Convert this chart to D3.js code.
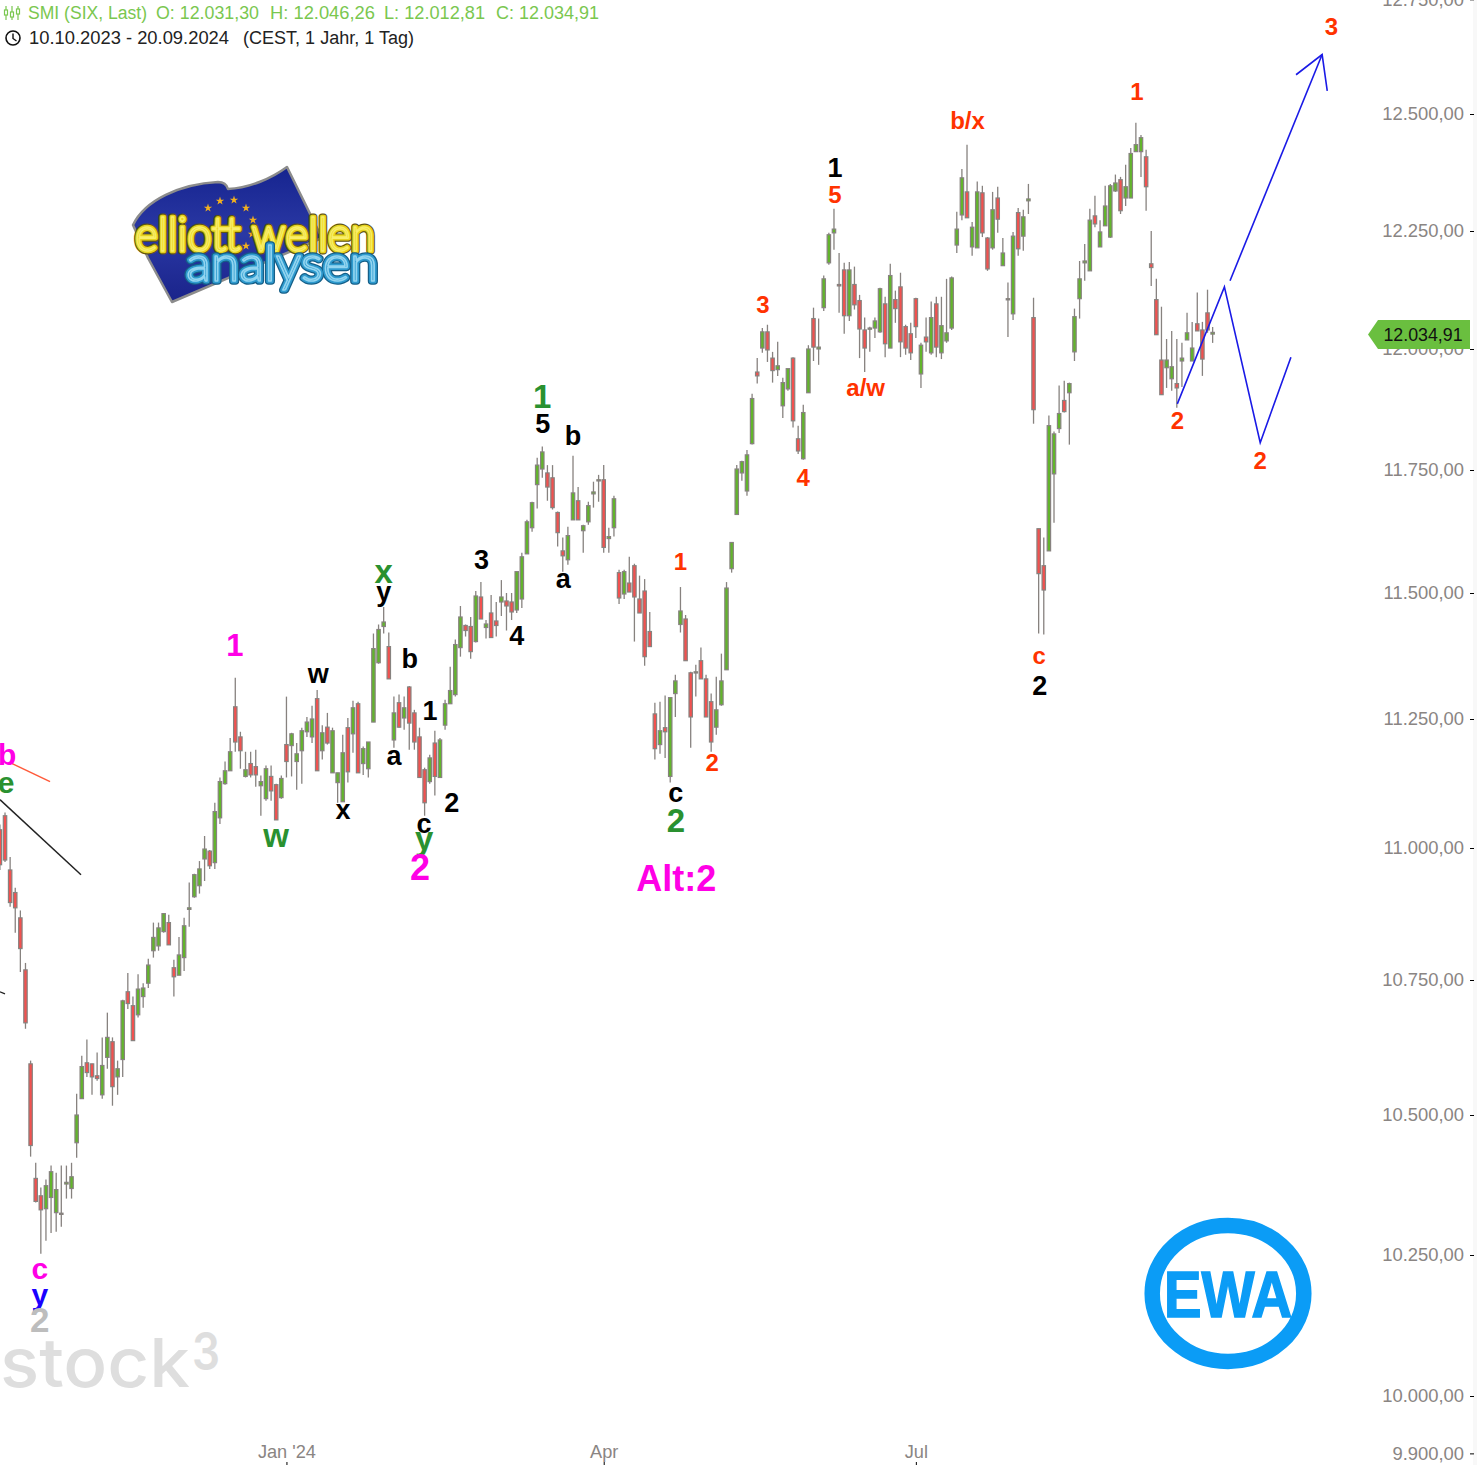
<!DOCTYPE html>
<html><head><meta charset="utf-8">
<script src="https://cdn.jsdelivr.net/npm/d3@7/dist/d3.min.js"></script>
<style>html,body{margin:0;padding:0;background:#fff}svg{display:block}text{font-family:"Liberation Sans",Arial,sans-serif}</style>
</head><body><div id="chart"></div>
<script>
// Daily OHLC, SMI, one entry per trading day shown (bar index = array position)
const opens=[11035,11062,10958,10915,10867,10769,10594,10386,10355,10332,
10352,10325,10322,10376,10368,10450,10530,10596,10594,10572,
10537,10606,10635,10570,10602,10728,10702,10685,10719,10744,
10805,10814,10841,10858,10773,10759,10792,10883,10907,10928,
10979,10994,10972,11058,11124,11149,11274,11215,11138,11163,
11157,11120,11095,11138,11122,11097,11200,11198,11167,11188,
11225,11215,11290,11188,11234,11145,11126,11089,11233,11221,
11280,11163,11153,11244,11361,11433,11393,11209,11282,11252,
11313,11262,11215,11151,11128,11203,11136,11238,11280,11298,
11391,11435,11433,11403,11492,11431,11460,11444,11482,11484,
11482,11466,11488,11579,11632,11720,11752,11744,11734,11663,
11585,11567,11648,11687,11626,11644,11701,11728,11730,11610,
11632,11541,11498,11520,11555,11488,11504,11423,11260,11200,
11233,11138,11300,11437,11448,11341,11341,11365,11329,11284,
11234,11278,11347,11549,11659,11744,11707,11804,11952,12002,
12036,11981,11957,11882,11917,11981,11814,11773,11909,12064,
12000,12087,12182,12246,12136,12167,12070,12136,12102,12040,
12042,12044,12036,12095,12002,12104,12131,12047,12032,12106,
11948,12025,11992,12095,11992,12017,12044,12220,12284,12333,
12216,12214,12331,12235,12214,12320,12176,12104,12074,12289,
12239,12314,12066,11630,11555,11585,11742,11835,11893,11909,
11994,12106,12182,12165,12282,12216,12261,12237,12335,12359,
12320,12320,12419,12419,12408,12180,12104,11977,11961,11938,
11928,11975,12019,11975,12053,12040,12076,12031.30];
const closes=[10968,10977,10896,10886,10809,10670,10445,10345,10330,10373,
10398,10366,10324,10379,10389,10500,10589,10578,10570,10567,
10591,10643,10552,10585,10711,10706,10637,10733,10735,10778,
10830,10848,10875,10816,10756,10797,10852,10886,10949,10960,
10998,10966,11070,11128,11149,11186,11205,11188,11151,11141,
11141,11128,11153,11110,11054,11134,11167,11221,11182,11227,
11244,11250,11149,11223,11203,11227,11145,11184,11147,11272,
11145,11192,11205,11389,11427,11442,11329,11262,11234,11272,
11242,11205,11136,11087,11174,11138,11209,11280,11306,11397,
11452,11425,11383,11494,11448,11438,11411,11435,11492,11474,
11462,11543,11573,11644,11683,11760,11787,11715,11673,11622,
11575,11616,11703,11648,11636,11677,11705,11730,11592,11614,
11691,11490,11543,11502,11492,11460,11373,11393,11192,11227,
11225,11292,11325,11464,11365,11254,11343,11329,11254,11205,
11268,11325,11510,11602,11752,11767,11781,11897,11944,12036,
11998,11955,11965,11930,11959,11851,11789,11868,12000,12004,
12004,12148,12242,12254,12133,12070,12167,12093,12042,12002,
12044,12059,12127,12011,12155,12085,12015,12002,11992,12047,
12008,12015,12066,12004,12049,12034,12150,12254,12363,12278,
12258,12333,12246,12169,12295,12275,12203,12106,12239,12212,
12280,12318,11874,11539,11506,11841,11824,11866,11870,11928,
12068,12148,12186,12273,12265,12248,12303,12346,12352,12293,
12344,12415,12434,12449,12344,12172,12030,11905,11977,11963,
11919,11981,12034,12002,12038,11979,12040,12034.91];
const highs=[11045,11068,10983,10924,10881,10782,10600,10414,10370,10384,
10409,10396,10409,10409,10414,10539,10609,10639,10594,10615,
10643,10689,10643,10600,10713,10763,10719,10761,10744,10790,
10858,10858,10875,10873,10788,10831,10867,10934,10951,10975,
11023,10996,11087,11136,11167,11213,11331,11225,11186,11186,
11190,11140,11159,11159,11124,11140,11294,11223,11203,11233,
11254,11276,11307,11238,11262,11233,11145,11219,11252,11286,
11284,11196,11205,11419,11437,11472,11421,11294,11298,11294,
11315,11268,11233,11155,11180,11227,11213,11288,11353,11407,
11474,11437,11452,11504,11522,11446,11496,11482,11526,11500,
11500,11543,11581,11648,11685,11775,11798,11760,11760,11665,
11612,11634,11779,11715,11638,11685,11726,11740,11760,11632,
11697,11547,11547,11573,11559,11535,11528,11462,11282,11284,
11296,11292,11337,11512,11456,11343,11357,11391,11337,11300,
11333,11379,11522,11602,11760,11769,11791,11907,11981,12044,
12051,11994,12015,11940,11959,11983,11841,11884,12008,12087,
12064,12155,12246,12297,12203,12182,12184,12174,12114,12066,
12047,12066,12129,12110,12180,12123,12161,12051,12055,12108,
12013,12066,12100,12110,12110,12148,12153,12291,12382,12434,
12269,12355,12346,12237,12333,12344,12235,12140,12248,12299,
12295,12350,12108,11630,11612,11862,11829,11924,11934,11930,
12085,12186,12222,12297,12325,12273,12346,12350,12370,12365,
12391,12427,12481,12455,12423,12250,12148,12089,12021,12038,
12021,12013,12076,12057,12119,12057,12125,12046.26];
const lows=[10958,10973,10888,10839,10765,10659,10425,10343,10252,10275,
10289,10291,10300,10350,10350,10423,10530,10570,10537,10563,
10530,10585,10517,10537,10570,10696,10637,10680,10698,10735,
10792,10805,10839,10816,10719,10759,10767,10850,10905,10913,
10937,10960,10960,11046,11122,11149,11186,11153,11136,11136,
11118,11062,11091,11091,11054,11095,11136,11138,11112,11124,
11215,11203,11149,11171,11200,11145,11087,11089,11126,11184,
11145,11141,11136,11244,11359,11419,11329,11194,11233,11229,
11190,11190,11136,11062,11124,11101,11136,11229,11280,11294,
11373,11413,11369,11401,11448,11409,11411,11413,11454,11425,
11446,11460,11470,11579,11624,11671,11734,11687,11669,11594,
11543,11557,11648,11648,11581,11638,11673,11685,11581,11581,
11614,11478,11488,11502,11403,11460,11355,11393,11171,11182,
11174,11126,11254,11421,11365,11194,11294,11329,11254,11186,
11219,11276,11347,11541,11659,11728,11697,11802,11928,11992,
11973,11930,11944,11857,11913,11837,11783,11771,11909,11975,
11967,12080,12178,12210,12076,12032,12059,12083,11981,11952,
11994,12023,12034,11983,12002,12055,11983,11988,11977,12023,
11919,11994,11988,11983,11979,12013,12040,12203,12273,12278,
12197,12214,12237,12165,12210,12246,12176,12025,12061,12197,
12208,12286,11845,11419,11417,11585,11642,11826,11868,11802,
11975,12064,12144,12165,12258,12216,12261,12235,12333,12286,
12303,12320,12419,12365,12293,12133,12030,11905,11919,11913,
11878,11921,12019,11975,12038,11944,12034,12012.81];

const priceTicks=[12750,12500,12250,12000,11750,11500,11250,11000,10750,10500,10250,10000,9900];
const scaleLevels=[10000,10250,10500,10750,11000,11250,11500,11750,12000,12250,12500];
const timeTickBars=[56,118,179];
const timeTickLabels=["Jan '24","Apr","Jul"];
const lastClose=12034.91;

// Elliott wave annotations: text, bar, price level of the text baseline, style key
const waveTexts=["1","b","e","c","y","2","w","w","x","x","y","b","a","1","2","c","y","2","3","4","1","5","b","a","c","2","1","2","Alt:2","4","3","1","5","a/w","b/x","c","2","1","2","2","3"];
const waveBars=[45.9,1.4,1.2,7.8,7.8,7.8,62.2,53.95,67.05,75,75,80.1,77,84.05,88.3,82.9,82.9,82.1,94.1,101,106,106.1,112,110.1,132.1,132.1,133,139.2,132.2,157,149.1,163.2,163.2,169.2,189.1,203.1,203.2,222.2,230.1,246.3,260.2];
const waveLevels=[11375,11161,11105,10207,10160,10112,11321,11002,11056,11520,11484,11351,11161,11248,11070,11029,10996,10939,11549,11397,11878,11826,11802,11510,11089,11031,11547,11149,10917,11717,12076,12365,12310,11903,12468,11359,11298,12530,11835,11752,12671];
const waveKinds=["magL","magM","grnM","magM","bluM","gryL","blk","grnL","blk","grnL","blk","blk","blk","blk","blk","blk","grnL","magXL","blk","blk","grnL","blk","blk","blk","blk","grnL","red","red","magXL","red","red","blk","red","red","red","red","blk","red","red","red","red"];
const waveStyles={magL:["#ff00e6",31],magM:["#ff00e6",30],magXL:["#ff00e6",36],grnM:["#2a9130",30],grnL:["#2a9130",33],bluM:["#1a00ff",30],gryL:["#bdbdbd",35],blk:["#000",27],red:["#ff3300",24]};

// Forecast and trend lines as [bar, price]
const forecastPath=[[230.1,11886],[239.3,12131],[246.3,11806],[252.3,11983]];
const forecastArrow=[[240.4,12144],[258.4,12629]];
const arrowHead=[[253.3,12585],[258.4,12629],[259.4,12550]];
const blackTrend=[[0,11093],[15.85,10949]];
const blackStub=[[0,10728],[1,10724]];
const redTrend=[[2.4,11163],[9.8,11128]];

const W=1477,H=1465;
const svg=d3.select("#chart").append("svg").attr("width",W).attr("height",H).attr("viewBox",`0 0 ${W} ${H}`);
const x=d3.scaleLinear().domain([0,288]).range([-0.1,1473.6]);
const y=d3.scaleLog().domain(scaleLevels).range([1396,1255,1115,980,848,719,593,470,349,231,114]);
const candles=opens.map((o,i)=>({i,o,c:closes[i],h:highs[i],l:lows[i]}));
const green="#62b52b",red="#f2514f",edge="#87827f";

svg.append("rect").attr("x",1473).attr("y",0).attr("width",4).attr("height",H).attr("fill","#f8f8f8");

/* ---------- logo: Elliott Wellen Analysen ---------- */
const defs=svg.append("defs");
const fg=defs.append("linearGradient").attr("id","flag").attr("x1",0).attr("y1",0).attr("x2",0).attr("y2",1);
fg.append("stop").attr("offset",0).attr("stop-color","#16248f");
fg.append("stop").attr("offset",0.5).attr("stop-color","#2a38a4");
fg.append("stop").attr("offset",1).attr("stop-color","#1a238a");
const logo=svg.append("g");
logo.append("path").attr("d","M133,225 C145,200 180,184 218,182 Q226,182 228,189 C250,188 272,178 287,167 L322,238 L172,302 L148,258 Z")
  .attr("fill","url(#flag)").attr("stroke","#8c8c8c").attr("stroke-width",2.5).attr("stroke-linejoin","round");
const star=d3.symbol().type(d3.symbolStar).size(22);
[[208,208],[220,201],[234,200],[246,208],[253,220],[252,234],[246,246]].forEach(p=>
  logo.append("path").attr("d",star).attr("transform",`translate(${p[0]},${p[1]})`).attr("fill","#f2b01e"));
function logoText(t,xx,yy,len,size,cols){
  cols.forEach(c=>logo.append("text").attr("x",xx).attr("y",yy).attr("textLength",len).attr("lengthAdjust","spacingAndGlyphs")
    .style("font-family","Lato, 'Open Sans', sans-serif").style("font-size",size+"px").style("font-weight",300)
    .attr("fill","none").attr("stroke",c[0]).attr("stroke-width",c[1]).attr("stroke-linejoin","round").attr("stroke-linecap","round").text(t));
}
logoText("elliott wellen",135,251,240,48,[["#5f5510",7],["#e6d21f",4.6],["#f8ee6a",1.4]]);
logoText("analysen",186,281,192,50,[["#155f88",7.5],["#2f9bcf",5],["#93d5f0",1.6]]);

/* ---------- stock3 watermark ---------- */
svg.append("text").attr("x",0).attr("y",1387).attr("textLength",190).attr("lengthAdjust","spacingAndGlyphs")
  .style("font-family","Inter, sans-serif").style("font-size","68px").style("font-weight",500).attr("fill","#dedede").text("stock");
svg.append("text").attr("x",192).attr("y",1370).attr("textLength",28).attr("lengthAdjust","spacingAndGlyphs")
  .style("font-family","Inter, sans-serif").style("font-size","52px").style("font-weight",600).attr("fill","#dedede").text("3");

/* ---------- EWA logo ---------- */
svg.append("ellipse").attr("cx",1228).attr("cy",1293.5).attr("rx",75.8).attr("ry",68).attr("fill","#fff").attr("stroke","#0b9cf6").attr("stroke-width",15.5);
svg.append("text").attr("x",1164).attr("y",1316.5).attr("textLength",128).attr("lengthAdjust","spacingAndGlyphs")
  .style("font-size","64px").style("font-weight",700).attr("fill","#0b9cf6").attr("stroke","#0b9cf6").attr("stroke-width",1.6).text("EWA");

/* ---------- candles ---------- */
const gC=svg.append("g").selectAll("g").data(candles).join("g");
gC.append("line").attr("x1",d=>x(d.i)).attr("x2",d=>x(d.i)).attr("y1",d=>y(d.h)).attr("y2",d=>y(d.l))
  .attr("stroke",edge).attr("stroke-width",1.3);
gC.append("rect").attr("x",d=>x(d.i)-1.7).attr("width",3.4)
  .attr("y",d=>y(Math.max(d.o,d.c))).attr("height",d=>Math.max(1.2,Math.abs(y(d.o)-y(d.c))))
  .attr("fill",d=>d.c>=d.o?green:red).attr("stroke",edge).attr("stroke-width",1.2);

/* ---------- wave lines ---------- */
const ln=d3.line().x(p=>x(p[0])).y(p=>y(p[1]));
function drawLine(p,col,w){svg.append("path").attr("d",ln(p)).attr("fill","none").attr("stroke",col).attr("stroke-width",w);}
drawLine(blackTrend,"#222",1.5);
drawLine(blackStub,"#222",1.2);
drawLine(redTrend,"#ff5a3a",1.5);
drawLine(forecastPath,"#1a1ae6",1.6);
drawLine(forecastArrow,"#1a1ae6",1.6);
drawLine(arrowHead,"#1a1ae6",1.6);

/* ---------- wave labels ---------- */
svg.append("g").selectAll("text").data(waveTexts.map((t,i)=>({t,b:waveBars[i],l:waveLevels[i],k:waveKinds[i]}))).join("text")
  .attr("x",d=>x(d.b)).attr("y",d=>y(d.l)).attr("text-anchor","middle")
  .style("font-weight",700).style("font-size",d=>waveStyles[d.k][1]+"px").attr("fill",d=>waveStyles[d.k][0]).text(d=>d.t);

/* ---------- axes ---------- */
const de=d3.formatLocale({decimal:",",thousands:".",grouping:[3],currency:["","€"]});
const fmt=de.format(",.2f");
const ay=svg.append("g").attr("transform","translate(1474,0)")
  .call(d3.axisLeft(y).tickValues(priceTicks).tickFormat(fmt).tickSize(4).tickPadding(6));
ay.select(".domain").remove();
ay.selectAll("line").attr("stroke","#000");
ay.selectAll("text").style("font-size","18.4px").style("font-family",'"Liberation Sans",Arial,sans-serif').attr("fill","#8a8583");
const ax=svg.append("g").attr("transform","translate(0,1462)")
  .call(d3.axisBottom(x).tickValues(timeTickBars).tickFormat((d,i)=>timeTickLabels[i]).tickSize(3));
ax.select(".domain").remove();
ax.selectAll("line").attr("stroke","#000");
ax.selectAll("text").attr("dy",0).attr("y",-4.5).style("font-size","18.2px").style("font-family",'"Liberation Sans",Arial,sans-serif').attr("fill","#8a8583");

/* ---------- last price tag ---------- */
const ty=y(lastClose)+2;
svg.append("path").attr("d",`M1368,${ty} L1378,${ty-14.5} H1470 V${ty+14.5} H1378 Z`).attr("fill","#6abf3f");
svg.append("text").attr("x",1423).attr("y",ty+6.5).attr("text-anchor","middle").style("font-size","17.8px").attr("fill","#111").text(fmt(lastClose));

/* ---------- header ---------- */
const hg="#7ac74f";
[["SMI (SIX, Last)",28,119],["O: 12.031,30",156,103],["H: 12.046,26",270,105],["L: 12.012,81",384,101],["C: 12.034,91",496,103]].forEach(r=>
  svg.append("text").attr("x",r[1]).attr("y",19).attr("textLength",r[2]).attr("lengthAdjust","spacingAndGlyphs").style("font-size","18px").attr("fill",hg).text(r[0]));
[["10.10.2023 - 20.09.2024",29,200],["(CEST, 1 Jahr, 1 Tag)",243,171]].forEach(r=>
  svg.append("text").attr("x",r[1]).attr("y",44).attr("textLength",r[2]).attr("lengthAdjust","spacingAndGlyphs").style("font-size","18px").attr("fill","#222").text(r[0]));
const ic=svg.append("g").attr("stroke",hg).attr("fill","none").attr("stroke-width",1.2);
[[6,6,20,10,15],[12,6,20,12,17],[18,6,20,9,14]].forEach(c=>{
  ic.append("line").attr("x1",c[0]).attr("x2",c[0]).attr("y1",c[1]).attr("y2",c[2]);
  ic.append("rect").attr("x",c[0]-1.5).attr("y",c[3]).attr("width",3).attr("height",c[4]-c[3]).attr("fill","#fff");
});
svg.append("circle").attr("cx",13).attr("cy",38).attr("r",7).attr("fill","none").attr("stroke","#111").attr("stroke-width",1.6);
svg.append("path").attr("d","M13,33.5 V38.5 L16.5,41").attr("fill","none").attr("stroke","#111").attr("stroke-width",1.4);
</script></body></html>
